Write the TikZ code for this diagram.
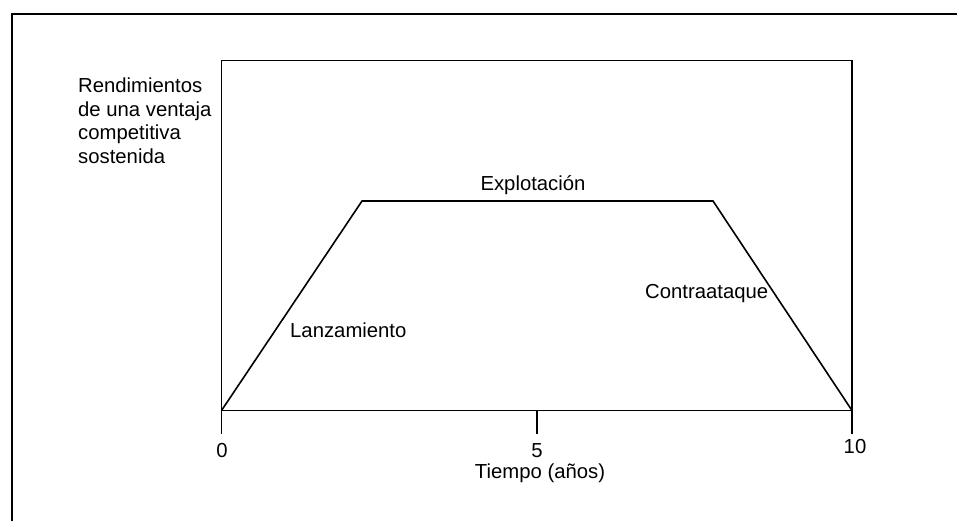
\documentclass[tikz,border=0pt]{standalone}
\usepackage{fontspec}
\setmainfont{Liberation Sans}
\begin{document}
\begin{tikzpicture}[x=1pt,y=-1pt,
  frame/.style={line width=2pt},
  boxline/.style={line width=1.6pt},
  curve/.style={line width=1.6pt, line join=miter},
  lbl/.style={inner sep=0pt, font=\fontsize{20.3}{23.5}\selectfont}]
\useasboundingbox (0,0) rectangle (957,520);
% outer frame (only left and top visible)
\coordinate (fbl) at (11.5,521);
\coordinate (ftl) at (11.5,14);
\coordinate (ftr) at (958,14);
\draw[frame] (fbl) -- (ftl) -- (ftr);
% inner plot box
\coordinate (btl) at (221.5,60.5);
\coordinate (btr) at (852,60.5);
\coordinate (o) at (221.5,410.5);
\coordinate (x5) at (537,410.5);
\coordinate (x10) at (852,410.5);
\draw[boxline] (o) -- (btl) -- (btr) -- (x10);
\draw[boxline] (o) -- (x10);
% ticks
\coordinate (t0) at (221.5,434);
\coordinate (t5) at (537,434);
\coordinate (t10) at (852,434);
\draw[boxline] (o) -- (t0);
\draw[boxline] (x5) -- (t5);
\draw[boxline] (x10) -- (t10);
% trapezoid
\coordinate (p1) at (362,201);
\coordinate (p2) at (713,201);
\draw[curve] (o) -- (p1) -- (p2) -- (x10);
% labels
\node[lbl, anchor=base west, align=left] (ylab) at (78,163)
  {Rendimientos\\de una ventaja\\competitiva\\sostenida};
\node[lbl, anchor=base] (expl) at (533,190.7) {Explotación};
\node[lbl, anchor=base west] (contra) at (645,298) {Contraataque};
\node[lbl, anchor=base west] (lanz) at (290,337) {Lanzamiento};
\node[lbl, anchor=base] (l0) at (222,457) {0};
\node[lbl, anchor=base] (l5) at (537,457) {5};
\node[lbl, anchor=base] (l10) at (855,453) {10};
\node[lbl, anchor=base] (xlab) at (540,478) {Tiempo (años)};
\end{tikzpicture}
\end{document}
